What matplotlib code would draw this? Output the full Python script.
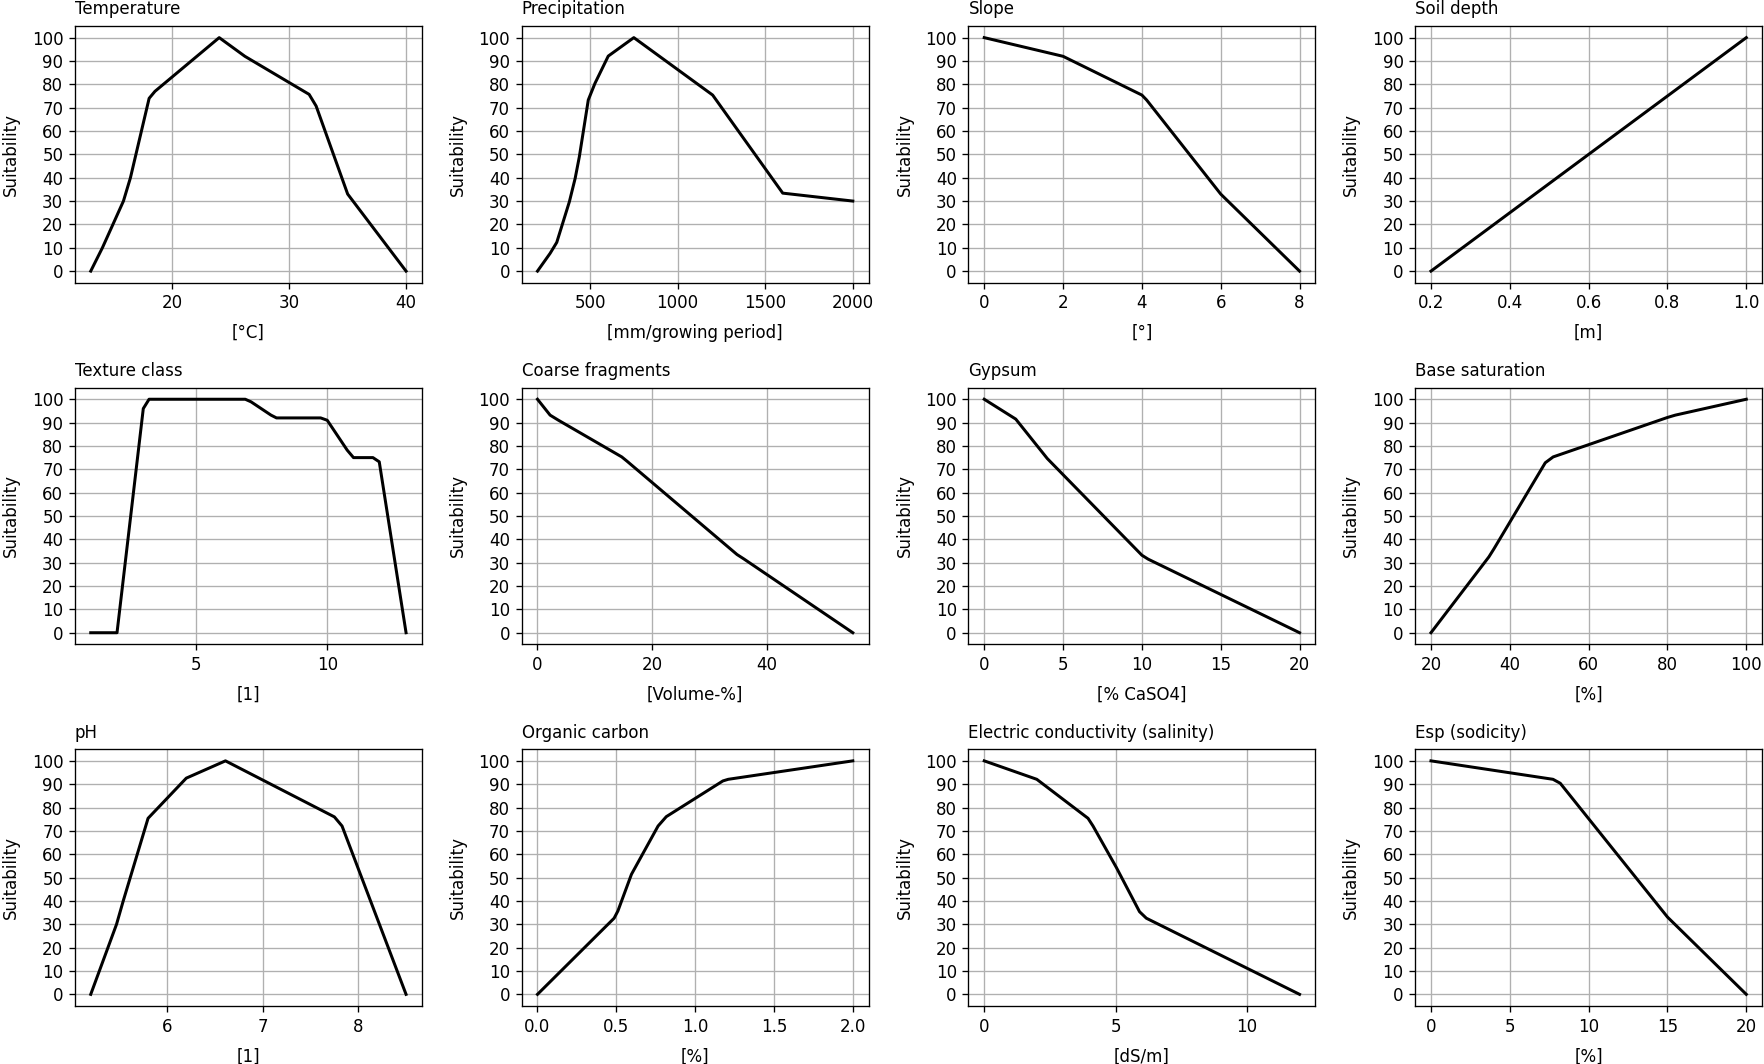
import matplotlib
matplotlib.use("Agg")
import matplotlib.pyplot as plt
from matplotlib.ticker import MaxNLocator

# -----------------------------
# Suitability curves
# -----------------------------
titles = ["Temperature", "Precipitation", "Slope", "Soil depth",
          "Texture class", "Coarse fragments", "Gypsum", "Base saturation",
          "pH", "Organic carbon", "Electric conductivity (salinity)", "Esp (sodicity)"]
units = ["[°C]", "[mm/growing period]", "[°]", "[m]",
         "[1]", "[Volume-%]", "[% CaSO4]", "[%]",
         "[1]", "[%]", "[dS/m]", "[%]"]

temp_x = [13, 14, 15.8, 16.4, 18, 18.5, 24, 26.2, 31.7, 32.3, 35, 40]
temp_y = [0, 10, 30, 40, 74, 77, 100, 92, 75.7, 70.7, 33, 0]

prec_x = [200, 272, 310, 382, 415, 439, 490, 528, 604, 750, 1200, 1600, 2000]
prec_y = [0, 7.6, 12.3, 29.7, 39.7, 49, 73.3, 80.4, 92.1, 100, 75.4, 33.4, 30]

slope_x = [0, 2, 4, 4.12, 6, 8]
slope_y = [100, 92, 75.4, 73.3, 33, 0]

depth_x = [0.2, 1.0]
depth_y = [0, 100]

texture_x = [1, 2, 3, 3.22, 6.88, 7.1, 7.86, 8.07, 9.75, 10, 10.76, 11, 11.74, 11.98, 13]
texture_y = [0, 0, 96, 100, 100, 98.9, 93.2, 92, 92, 91, 78.2, 75, 75, 73.2, 0]

coarse_x = [0, 2.2, 3.66, 14.7, 15.6, 34.8, 36, 55]
coarse_y = [100, 93.2, 91, 75.3, 73.5, 33.5, 31.6, 0]

gypsum_x = [0, 2, 4, 10, 10.4, 20]
gypsum_y = [100, 91.5, 74.6, 33.2, 31.5, 0]

base_x = [20, 34.7, 36, 49, 51, 80, 82, 100]
base_y = [0, 32.5, 36, 72.8, 75.3, 92.2, 93.2, 100]

ph_x = [5.2, 5.47, 5.54, 5.8, 6.2, 6.61, 7.75, 7.83, 8.5]
ph_y = [0, 30, 40, 75.4, 92.6, 100, 76, 72.1, 0]

oc_x = [0, 0.486, 0.51, 0.596, 0.765, 0.817, 1.176, 1.21, 2.0]
oc_y = [0, 32.6, 35.7, 51.4, 72.1, 76.1, 91.4, 92.1, 100]

ec_x = [0, 2, 3.95, 4.14, 5.03, 5.91, 6.17, 12]
ec_y = [100, 92.1, 75.4, 72.1, 54.3, 35.4, 32.6, 0]

esp_x = [0, 7.74, 8.2, 15, 20]
esp_y = [100, 92.1, 90.4, 33.1, 0]

curves_x = [temp_x, prec_x, slope_x, depth_x, texture_x, coarse_x,
            gypsum_x, base_x, ph_x, oc_x, ec_x, esp_x]
curves_y = [temp_y, prec_y, slope_y, depth_y, texture_y, coarse_y,
            gypsum_y, base_y, ph_y, oc_y, ec_y, esp_y]

# -----------------------------
# Plot grid of curves
# -----------------------------
fig, axes = plt.subplots(3, 4, figsize=(14.7, 8.8667), dpi=120)
fig.subplots_adjust(left=0.0425, right=0.9989, top=0.9756, bottom=0.0545,
                    wspace=0.288, hspace=0.408)

for ax, title, unit, xs, ys in zip(axes.flat, titles, units, curves_x, curves_y):
    ax.plot(xs, ys, color="black", linewidth=1.8)
    ax.set_title(title, loc="left", fontsize=10, pad=7)
    ax.set_xlabel(unit, labelpad=7)
    ax.set_ylabel("Suitability", labelpad=7)
    ax.set_yticks(range(0, 101, 10))
    # fewer x ticks, like the original (smaller canvas)
    ax.xaxis.set_major_locator(MaxNLocator(nbins=5, steps=[1, 2, 2.5, 5, 10]))
    ax.grid(True)

fig.savefig("out.png", dpi=120)
